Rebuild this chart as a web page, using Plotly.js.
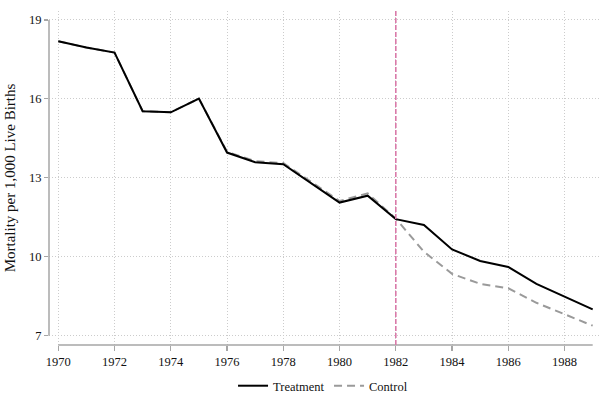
<!DOCTYPE html>
<html>
<head>
<meta charset="utf-8">
<script src="https://cdn.plot.ly/plotly-3.0.1.min.js"></script>
<style>html,body{margin:0;padding:0;background:#fff;}#chart{width:602px;height:399px;}</style>
</head>
<body>
<div id="chart"></div>
<script>
var years = [1970,1971,1972,1973,1974,1975,1976,1977,1978,1979,1980,1981,1982,1983,1984,1985,1986,1987,1988,1989];
var treatment = [18.19,17.95,17.76,15.53,15.49,16.01,13.96,13.59,13.52,12.79,12.06,12.32,11.43,11.21,10.28,9.84,9.61,8.97,8.48,8.00];
var control   = [18.19,17.95,17.76,15.53,15.49,16.01,13.99,13.63,13.56,12.85,12.12,12.41,11.45,10.19,9.35,8.97,8.80,8.25,7.83,7.38];
var seriesNames = ['Treatment','Control'];
var xTicks = [1970,1972,1974,1976,1978,1980,1982,1984,1986,1988];
var yTicks = [7,10,13,16,19];
var treatYear = 1982;
var yTitle = 'Mortality per 1,000 Live Births';

var serif = 'Liberation Serif, Times New Roman, serif';
var axisCol = '#a6a6a6';
var gridCol = '#cccccc';

var traces = [
  {x: years, y: control, name: seriesNames[1], type: 'scatter', mode: 'lines', legendrank: 2,
   line: {color: '#9a9a9a', width: 2, dash: '8px,5px'}},
  {x: years, y: treatment, name: seriesNames[0], type: 'scatter', mode: 'lines', legendrank: 1,
   line: {color: '#000000', width: 2}}
];

var layout = {
  width: 602, height: 399,
  margin: {l: 49, r: 2, t: 11, b: 54, autoexpand: false},
  paper_bgcolor: '#fff', plot_bgcolor: '#fff',
  font: {family: serif, color: '#111', size: 12},
  showlegend: true,
  legend: {orientation: 'h', x: 0.334, xanchor: 'left', y: -0.123, yanchor: 'middle',
           font: {family: serif, size: 12.5, color: '#111'}, entrywidth: 51, entrywidthmode: 'pixels',
           bgcolor: 'rgba(0,0,0,0)'},
  xaxis: {range: [1969.67, 1989.26], tickvals: xTicks, ticktext: xTicks.map(String), automargin: false,
          ticks: 'outside', ticklen: 5, tickwidth: 1.2, tickcolor: axisCol,
          showgrid: true, gridcolor: gridCol, griddash: '1px,2px', gridwidth: 1,
          zeroline: false, showline: false, tickfont: {family: serif, size: 12.5, color: '#111'}},
  yaxis: {range: [6.646, 19.34], tickvals: yTicks, ticktext: yTicks.map(String), automargin: false,
          ticks: 'outside', ticklen: 4, tickwidth: 1.2, tickcolor: axisCol,
          showgrid: true, gridcolor: gridCol, griddash: '1px,2px', gridwidth: 1,
          zeroline: false, showline: false, tickfont: {family: serif, size: 12.5, color: '#111'},
          title: {text: yTitle, font: {family: serif, size: 15, color: '#111'}, standoff: 9}},
  shapes: [
    {type: 'line', xref: 'x', yref: 'paper', x0: 1970, x1: 1989, y0: 0, y1: 0,
     line: {color: axisCol, width: 1.5}, layer: 'above'},
    {type: 'line', xref: 'paper', yref: 'y', x0: 0, x1: 0, y0: 7, y1: 19,
     line: {color: axisCol, width: 1.5}, layer: 'above'},
    {type: 'line', xref: 'x', yref: 'paper', x0: treatYear, x1: treatYear, y0: 0, y1: 1.003,
     line: {color: '#d97aa9', width: 1.6, dash: '5px,2px'}, layer: 'above'}
  ]
};

Plotly.newPlot('chart', traces, layout, {displayModeBar: false, staticPlot: true});
</script>
</body>
</html>
